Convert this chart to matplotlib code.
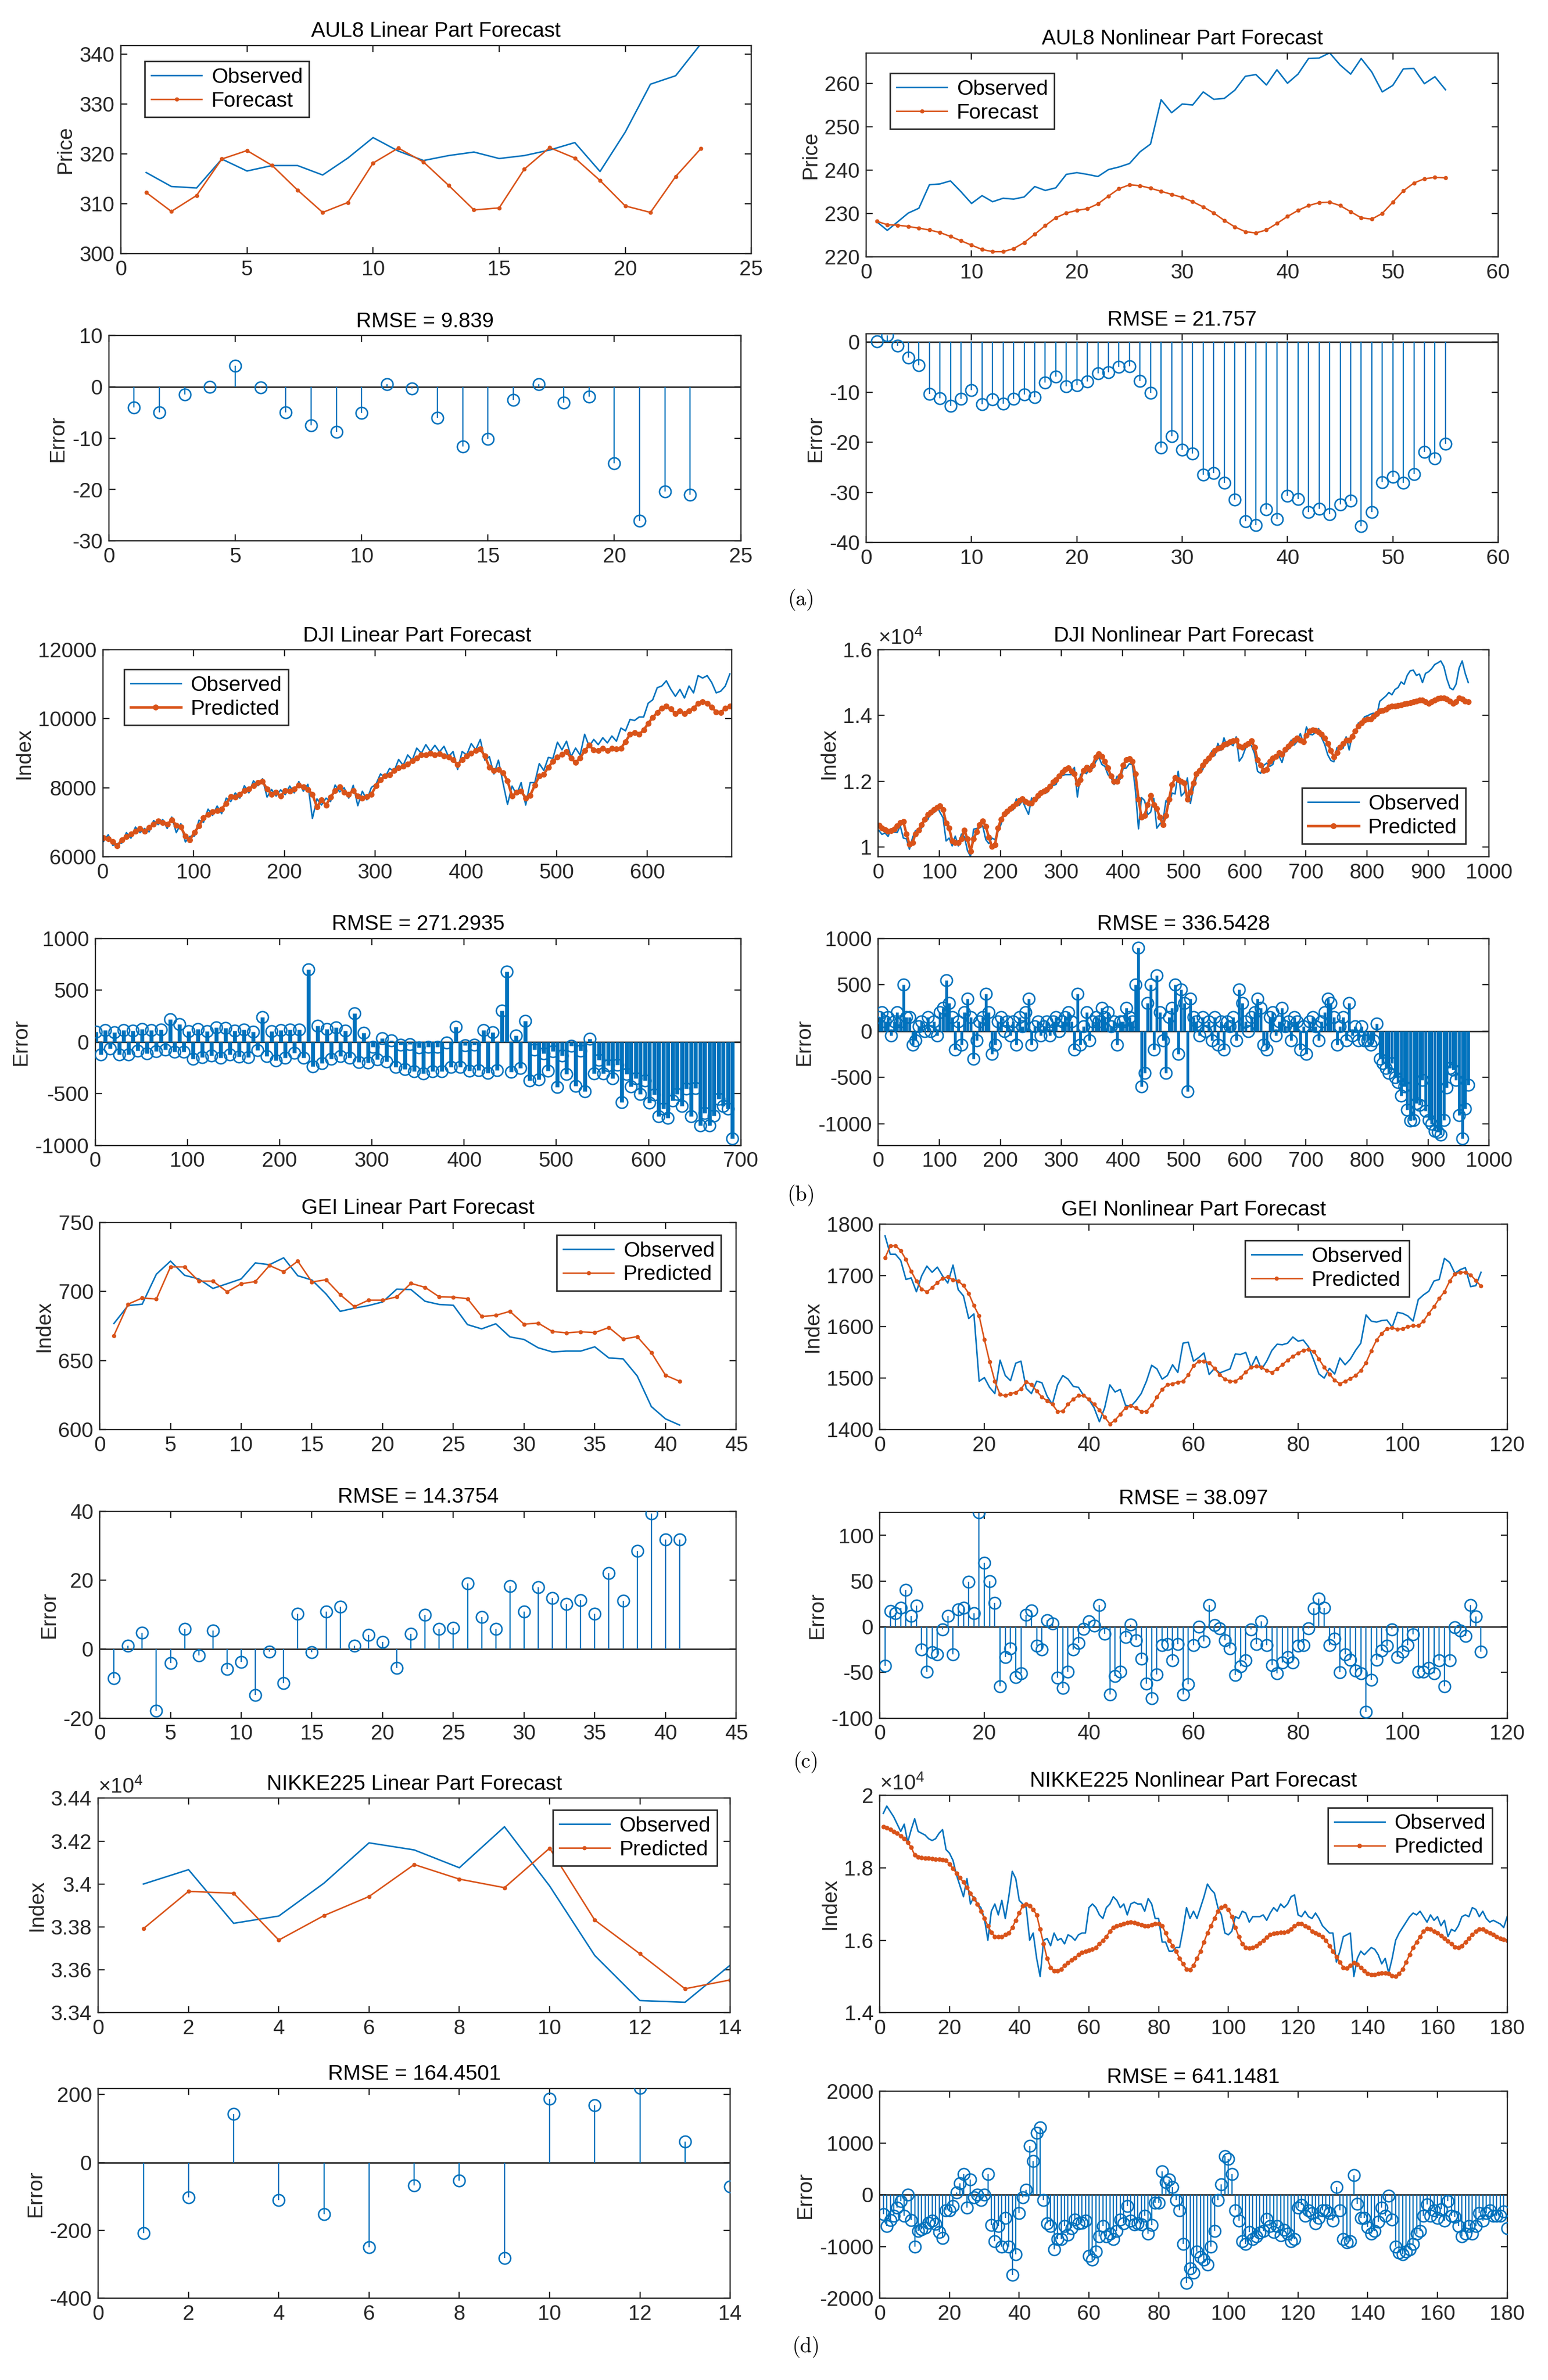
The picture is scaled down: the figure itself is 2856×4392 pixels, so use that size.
import numpy as np
import matplotlib
matplotlib.use("Agg")
import matplotlib.pyplot as plt
from matplotlib.ticker import FuncFormatter

plt.rcParams['font.family'] = ['Liberation Sans Narrow', 'Liberation Sans', 'DejaVu Sans']
plt.rcParams['mathtext.fontset'] = 'custom'
plt.rcParams['mathtext.rm'] = 'Liberation Sans'
plt.rcParams['axes.unicode_minus'] = False

BLUE = '#0072BD'
ORANGE = '#D95319'
DARK = '#262626'

# ---------------- AUL8 ----------------
aul8_lin_obs = [316.3, 313.5, 313.2, 319.0, 316.6, 317.7, 317.7, 315.8, 319.2, 323.3, 320.6, 318.7,
                319.7, 320.4, 319.1, 319.7, 320.8, 322.3, 316.5, 324.4, 334.0, 335.7, 342.1]
aul8_lin_fc = [312.3, 308.5, 311.7, 319.0, 320.7, 317.7, 312.8, 308.3, 310.3, 318.2, 321.2, 318.4,
               313.7, 308.8, 309.2, 317.0, 321.3, 319.2, 314.7, 309.6, 308.3, 315.5, 321.1]
aul8_lin_err = [-4.0, -5.0, -1.5, 0.0, 4.1, -0.1, -5.0, -7.5, -8.8, -5.1, 0.5, -0.3,
                -6.0, -11.6, -10.1, -2.5, 0.5, -3.1, -1.9, -14.9, -26.1, -20.4, -21.0]

aul8_nl_obs = [228.1, 226.1, 228.1, 230.1, 231.2, 236.6, 236.8, 237.5, 235.0, 232.3,
               234.1, 232.7, 233.5, 233.3, 233.8, 236.2, 235.3, 235.9, 239.0, 239.4,
               239.0, 238.5, 240.1, 240.7, 241.5, 244.2, 246.0, 256.2, 253.2, 255.2,
               255.0, 258.0, 256.3, 256.5, 258.4, 261.6, 262.0, 259.6, 263.1, 260.0,
               262.1, 265.7, 265.8, 267.0, 264.2, 262.1, 265.7, 262.6, 258.0, 259.5,
               263.3, 263.4, 259.9, 261.5, 258.5]
aul8_nl_fc = [228.2, 227.4, 227.3, 227.0, 226.6, 226.2, 225.6, 224.7, 223.7, 222.7,
              221.7, 221.2, 221.2, 221.9, 223.3, 225.2, 227.2, 229.0, 230.1, 230.7,
              231.1, 232.2, 234.0, 235.7, 236.6, 236.4, 235.8, 235.1, 234.4, 233.7,
              232.7, 231.5, 230.1, 228.4, 226.9, 225.8, 225.5, 226.2, 227.7, 229.3,
              230.7, 231.8, 232.5, 232.6, 231.8, 230.4, 229.0, 228.7, 230.0, 232.6,
              235.2, 237.0, 238.0, 238.3, 238.2]

# ---------------- DJI (every 5th trading day) ----------------
dji_lin_pred = [6547, 6520, 6442, 6316, 6495, 6579, 6653, 6740, 6810, 6737,
                6842, 6937, 7042, 6989, 6937, 7074, 6916, 6863, 6600, 6495,
                6705, 6895, 7126, 7231, 7305, 7337, 7389, 7547, 7737, 7726,
                7810, 7916, 7968, 8053, 8158, 8179, 7968, 7810, 7863, 7758,
                7916, 7895, 7968, 8074, 8021, 7947, 7810, 7442, 7653, 7495,
                7726, 7916, 8021, 7863, 7810, 7916, 7758, 7705, 7737, 7810,
                8053, 8232, 8337, 8368, 8495, 8579, 8621, 8684, 8779, 8863,
                8947, 8947, 9000, 8947, 8989, 8916, 8895, 8810, 8674, 8810,
                8916, 9000, 9074, 9126, 8916, 8600, 8495, 8526, 8442, 8200,
                7758, 7863, 7895, 7705, 7779, 8074, 8337, 8389, 8600, 8758,
                8884, 8968, 9042, 8863, 8726, 8863, 9074, 9232, 9095, 9074,
                9147, 9074, 9147, 9126, 9147, 9337, 9547, 9600, 9547, 9674,
                9863, 10042, 10179, 10305, 10368, 10284, 10147, 10232, 10147, 10232,
                10305, 10442, 10495, 10442, 10337, 10200, 10179, 10305, 10368]
dji_lin_obs = [6450, 6640, 6330, 6380, 6400, 6700, 6540, 6860, 6700, 6820,
               6720, 7050, 6930, 7080, 6820, 7150, 6700, 6960, 6430, 6590,
               6600, 7060, 7000, 7380, 7200, 7470, 7250, 7700, 7600, 7850,
               7700, 8060, 7850, 8200, 8060, 8260, 7730, 7950, 7760, 7940,
               7800, 8050, 7850, 8180, 7900, 8100, 7110, 7680, 7500, 7700,
               7600, 8080, 7880, 8000, 7700, 8070, 7480, 7900, 7650, 8010,
               8100, 8400, 8300, 8560, 8480, 8820, 8650, 8950, 8800, 9150,
               9000, 9250, 9050, 9230, 9040, 9200, 8900, 9050, 8530, 9050,
               8950, 9280, 9100, 9400, 8800, 8900, 8400, 8800, 8140, 7520,
               8050, 7800, 8150, 7500, 8150, 8150, 8700, 8500, 8880, 8850,
               9320, 9100, 9350, 8900, 9150, 8950, 9550, 9200, 9400, 9250,
               9450, 9300, 9500, 9350, 9730, 9650, 9980, 9950, 10050, 10050,
               10450, 10550, 10900, 10950, 11100, 10850, 10650, 10850, 10600, 10950,
               10750, 11250, 11180, 11250, 11050, 10750, 10800, 10950, 11300]

dji_nl_pred = [10650, 10580, 10525, 10470, 10500, 10550, 10640, 10740, 10770, 10400,
               10080, 10130, 10400, 10510, 10680, 10840, 10980, 11060, 11140, 11200,
               11250, 11140, 10730, 10570, 10180, 10130, 10130, 10240, 10510, 10240,
               9860, 10240, 10460, 10680, 10790, 10620, 10300, 10020, 10070, 10570,
               10840, 11000, 11090, 11170, 11230, 11310, 11420, 11460, 11390, 11340,
               11340, 11450, 11560, 11640, 11700, 11750, 11840, 11970, 12050, 12160,
               12270, 12350, 12400, 12300, 12220, 11920, 12050, 12330, 12430, 12350,
               12490, 12740, 12840, 12760, 12600, 12400, 12160, 12000, 12000, 12160,
               12490, 12650, 12680, 12600, 12220, 11450, 10900, 10960, 11280, 11560,
               11280, 11170, 10900, 10680, 10960, 11450, 11890, 12110, 12050, 12000,
               11950, 11450, 11670, 11950, 12220, 12330, 12490, 12600, 12710, 12820,
               12930, 13000, 13040, 13120, 13150, 13200, 13230, 13250, 13060, 13040,
               13090, 13150, 13230, 13040, 12650, 12490, 12330, 12350, 12600, 12710,
               12760, 12870, 12820, 12960, 13060, 13150, 13250, 13310, 13250, 13200,
               13400, 13530, 13560, 13540, 13500, 13420, 13310, 13150, 12930, 12740,
               12870, 13040, 13150, 13250, 13250, 13370, 13530, 13670, 13780, 13860,
               13890, 13890, 13970, 14050, 14130, 14160, 14190, 14250, 14280, 14290,
               14300, 14320, 14350, 14370, 14390, 14420, 14440, 14460, 14470, 14420,
               14370, 14420, 14470, 14510, 14540, 14530, 14500, 14440, 14360, 14420,
               14530, 14500, 14440, 14420]
dji_nl_obs = [10500, 10380, 10425, 10320, 10550, 10450, 10440, 10640, 10270, 10250,
              9930, 10280, 10500, 10460, 10580, 10840, 10830, 11060, 11040, 11250,
              11050, 10890, 10180, 10270, 10030, 10330, 10030, 10390, 10310, 9890,
              9710, 10540, 10560, 10580, 10640, 10220, 10100, 10270, 10220, 10470,
              10690, 11000, 10990, 11220, 11130, 11460, 11270, 11410, 11190, 10990,
              11490, 11400, 11460, 11690, 11650, 11650, 11890, 11870, 11900, 12160,
              12170, 12200, 12200, 12200, 12420, 11520, 12200, 12280, 12230, 12450,
              12390, 12590, 12740, 12510, 12450, 12200, 12110, 11900, 12150, 12060,
              12390, 12400, 12530, 12500, 11720, 10550, 11500, 11410, 10980, 11060,
              11480, 10570, 10700, 10780, 11410, 11300, 11640, 11610, 12300, 11550,
              11650, 12100, 11320, 11800, 12120, 12380, 12340, 12600, 12610, 12920,
              12780, 13150, 12940, 13320, 13050, 13150, 13080, 13350, 12610, 12740,
              12990, 13150, 13080, 12840, 12300, 12240, 12480, 12550, 12450, 12510,
              12810, 12770, 12570, 12910, 12960, 13250, 13100, 13210, 13450, 13150,
              13650, 13430, 13410, 13490, 13600, 13320, 13110, 12800, 12630, 12590,
              13020, 12990, 13000, 13350, 12950, 13420, 13480, 13770, 13730, 13960,
              13990, 14040, 14070, 13970, 14430, 14510, 14590, 14700, 14630, 14790,
              14850, 15020, 14950, 15220, 15360, 15380, 15220, 15260, 15000, 15280,
              15330, 15420, 15550, 15600, 15660, 15490, 15110, 14840, 14780, 14950,
              15440, 15660, 15280, 15000]

# ---------------- GEI ----------------
gei_lin_obs = [676.8, 689.8, 690.8, 712.5, 722.0, 711.7, 709.1, 702.2, 705.6, 709.1,
               720.7, 719.4, 724.4, 711.4, 708.3, 698.2, 685.6, 687.9, 689.8, 692.4,
               701.7, 701.4, 692.9, 690.6, 690.0, 676.0, 672.9, 676.6, 667.1, 665.2,
               659.2, 656.2, 656.8, 656.8, 659.9, 651.8, 651.2, 638.8, 616.6, 607.7, 603.2]
gei_lin_pred = [668.1, 690.8, 695.3, 694.5, 717.8, 717.8, 707.5, 707.5, 699.8, 705.6,
                707.2, 718.8, 714.3, 722.0, 706.9, 708.5, 697.7, 689.0, 693.7, 693.7,
                696.1, 705.9, 703.0, 696.1, 695.9, 694.8, 681.9, 682.7, 685.6, 676.3,
                677.1, 671.0, 670.0, 670.8, 670.2, 673.9, 665.5, 667.3, 655.7, 639.3, 634.9]
gei_lin_err = [-8.4, 1.0, 4.7, -17.8, -4.0, 5.8, -1.8, 5.3, -5.8, -3.7,
               -13.3, -0.8, -9.8, 10.2, -0.9, 10.9, 12.3, 1.0, 4.1, 2.1,
               -5.4, 4.4, 9.9, 5.8, 6.1, 19.0, 9.3, 5.9, 18.3, 10.9,
               17.9, 14.8, 13.0, 14.1, 10.2, 22.0, 14.0, 28.5, 39.3, 31.7, 31.7]

gei_nl_obs = [1777, 1741, 1741, 1729, 1692, 1695, 1668, 1699, 1718, 1706,
              1716, 1699, 1685, 1720, 1672, 1660, 1616, 1625, 1494, 1501,
              1482, 1470, 1535, 1505, 1495, 1529, 1533, 1480, 1470, 1494,
              1491, 1465, 1449, 1487, 1505, 1498, 1484, 1482, 1466, 1458,
              1442, 1415, 1442, 1487, 1473, 1478, 1447, 1445, 1456, 1470,
              1494, 1525, 1518, 1498, 1505, 1526, 1511, 1568, 1570, 1533,
              1540, 1549, 1507, 1519, 1510, 1514, 1518, 1547, 1546, 1550,
              1521, 1542, 1517, 1533, 1554, 1566, 1565, 1568, 1580, 1572,
              1574, 1561, 1535, 1508, 1500, 1519, 1508, 1539, 1526, 1537,
              1554, 1568, 1623, 1611, 1609, 1612, 1613, 1599, 1628, 1626,
              1621, 1611, 1653, 1662, 1669, 1689, 1692, 1733, 1725, 1704,
              1711, 1715, 1678, 1680, 1706]
gei_nl_pred = [1734, 1757, 1758, 1748, 1731, 1708, 1689, 1673, 1668, 1676,
               1686, 1694, 1697, 1691, 1689, 1680, 1665, 1641, 1621, 1575,
               1532, 1494, 1468, 1466, 1470, 1472, 1479, 1493, 1487, 1475,
               1463, 1456, 1449, 1435, 1436, 1449, 1459, 1466, 1466, 1459,
               1449, 1438, 1424, 1411, 1418, 1430, 1442, 1446, 1442, 1435,
               1435, 1447, 1463, 1478, 1487, 1489, 1492, 1494, 1506, 1524,
               1533, 1533, 1530, 1519, 1507, 1498, 1494, 1494, 1501, 1512,
               1521, 1523, 1521, 1515, 1511, 1518, 1526, 1535, 1542, 1549,
               1554, 1556, 1552, 1537, 1521, 1508, 1496, 1489, 1494, 1499,
               1505, 1515, 1530, 1553, 1574, 1587, 1596, 1598, 1595, 1596,
               1600, 1602, 1602, 1611, 1626, 1639, 1655, 1668, 1689, 1703,
               1706, 1706, 1701, 1690, 1679]
gei_nl_err = [-42.5, 17, 15, 21, 40.5, 12, 23, -25, -49, -28,
              -30, -3, 12, -30, 19, 21, 49, 15, 125, 70,
              50, 26, -65, -33, -24, -55, -51, 13, 18, -21,
              -25, 7, 3.5, -56, -67, -49, -25, -18, -2.4, 6,
              1, 24, -7.5, -74, -54, -49, -11, 2.4, -15, -35,
              -62, -78, -52, -20, -19, -37, -19, -74, -63, -20,
              0, -16, 24, 1.5, -1.5, -15, -24, -53, -43, -37,
              -3, -19, 6, -20, -42, -51, -39, -33, -39, -21,
              -20, -1.5, 20, 31, 21, -20, -13, -50, -30, -36,
              -48, -51, -93, -58, -36, -26, -21, -3, -33, -27,
              -20, -8, -49, -49, -45, -51, -37, -65, -37, -0.4,
              -4, -10, 24, 11, -27]

# ---------------- NIKKEI 225 ----------------
nk_lin_obs = [34000, 34067, 33817, 33851, 34004, 34192, 34159, 34076, 34267, 33991,
              33667, 33457, 33449, 33622]
nk_lin_pred = [33792, 33966, 33957, 33739, 33853, 33942, 34091, 34023, 33983, 34167,
               33832, 33675, 33512, 33553]
nk_lin_err = [-208, -102, 143, -111, -153, -249, -67, -53, -282, 187, 168, 219, 61, -71]

nk_nl_pred = [19130, 19100, 19060, 19000, 18950, 18880, 18800, 18700, 18560, 18350,
              18300, 18280, 18270, 18260, 18250, 18240, 18230, 18220, 18200, 18100,
              17980, 17850, 17720, 17600, 17450, 17300, 17150, 17000, 16800, 16600,
              16400, 16220, 16100, 16100, 16100, 16150, 16200, 16350, 16550, 16750,
              16950, 17000, 16950, 16850, 16700, 16300, 15900, 15500, 15250, 15150,
              15150, 15200, 15300, 15380, 15450, 15520, 15600, 15660, 15700, 15720,
              15750, 15800, 15900, 16000, 16100, 16250, 16350, 16400, 16420, 16450,
              16480, 16500, 16480, 16450, 16430, 16400, 16400, 16420, 16450, 16450,
              16400, 16200, 16000, 15850, 15700, 15500, 15350, 15200, 15180, 15300,
              15500, 15700, 15950, 16200, 16400, 16600, 16800, 16900, 16950, 16850,
              16650, 16350, 16100, 15900, 15800, 15780, 15800, 15850, 15920, 16000,
              16080, 16150, 16180, 16200, 16220, 16220, 16250, 16300, 16400, 16450,
              16450, 16400, 16350, 16250, 16200, 16150, 16100, 16000, 15850, 15700,
              15550, 15400, 15250, 15230, 15300, 15380, 15330, 15250, 15150, 15080,
              15050, 15050, 15080, 15100, 15100, 15080, 15020, 15000, 15080, 15200,
              15400, 15600, 15800, 15950, 16100, 16250, 16320, 16300, 16250, 16200,
              16120, 16050, 15980, 15900, 15820, 15800, 15850, 15950, 16050, 16150,
              16250, 16300, 16300, 16250, 16200, 16150, 16100, 16050, 16030, 16000]
nk_nl_obs = [19500, 19700, 19550, 19400, 19200, 19000, 19200, 18700, 19050, 19350,
             19000, 18950, 18900, 18800, 18750, 18800, 18950, 19050, 18500, 18400,
             18200, 17800, 17500, 17200, 17700, 17000, 17200, 17000, 16900, 16600,
             16000, 16800, 17000, 16700, 17100, 16600, 17200, 17900, 17700, 17100,
             17000, 16900, 16000, 16200, 15500, 15000, 16000, 16050, 15850, 16200,
             16000, 16050, 15900, 16150, 16100, 16000, 16150, 16200, 16200, 16900,
             17000, 16900, 16700, 16600, 16900, 17000, 17200, 17100, 16900, 17000,
             16700, 17000, 17050, 17000, 17000, 16800, 17150, 17000, 16600, 16600,
             15950, 15950, 15700, 15700, 15800, 15800, 16300, 16900, 16600, 16800,
             16600, 16900, 17200, 17550, 17400, 17300, 16900, 16700, 16200, 16150,
             16250, 16650, 16600, 16800, 16750, 16500, 16650, 16650, 16650, 16700,
             16550, 16750, 16900, 16800, 17000, 16900, 17000, 17200, 17250, 16700,
             16650, 16800, 16650, 16600, 16750, 16600, 16400, 16300, 16200, 16200,
             15400, 15700, 16100, 16150, 16200, 15000, 15500, 15700, 15600, 15700,
             15800, 15750, 15600, 15350, 15500, 15100, 15500, 16000, 16200, 16350,
             16500, 16650, 16750, 16700, 16800, 16650, 16500, 16700, 16550, 16650,
             16400, 16550, 16100, 16300, 16250, 16400, 16650, 16700, 16650, 16900,
             16850, 16650, 16800, 16600, 16500, 16550, 16500, 16450, 16350, 16650]

# ---------------- layout (reference pixel boxes, 1024 x 1575 grid) ----------------
W, H = 1024.0, 1575.0


def box(x0, y0, x1, y1):
    return [x0 / W, 1 - y1 / H, (x1 - x0) / W, (y1 - y0) / H]


FS = 10

fig = plt.figure(figsize=(10.2, 15.686), dpi=280)


def style(ax, xlim, ylim, xticks, yticks, ylabel, title):
    ax.set_xlim(*xlim)
    ax.set_ylim(*ylim)
    ax.set_xticks(xticks)
    ax.set_yticks(yticks)
    for s in ax.spines.values():
        s.set_color(DARK)
        s.set_linewidth(0.6)
    ax.tick_params(direction='in', top=True, right=True, length=3, width=0.6,
                   colors=DARK, labelsize=FS, pad=3)
    ax.set_ylabel(ylabel, fontsize=FS, color=DARK, labelpad=2)
    ax.set_title(title, fontsize=FS, color='black', pad=4)


def sci(ax):
    ax.yaxis.set_major_formatter(FuncFormatter(lambda v, p: f'{v / 1e4:g}'))
    ax.text(0.0, 1.005, r'$\times10^{4}$', transform=ax.transAxes, ha='left',
            va='bottom', fontsize=FS, color=DARK)


def lines(ax, t, obs, pred, pred_label, ms=2.0, plw=0.7):
    ax.plot(t, obs, '-', color=BLUE, lw=0.7, label='Observed')
    ax.plot(t, pred, '-', color=ORANGE, lw=plw, marker='o', ms=ms, mew=0,
            label=pred_label)


def legend(ax, loc, anchor):
    lg = ax.legend(loc=loc, bbox_to_anchor=anchor, fontsize=FS, frameon=True,
                   fancybox=False, edgecolor=DARK, framealpha=1, borderaxespad=0,
                   handlelength=2.4, handletextpad=0.45, labelspacing=0.2,
                   borderpad=0.3, numpoints=1)
    lg.get_frame().set_linewidth(0.7)


def stems(ax, t, e, lw=0.6, ms=5.5):
    ax.axhline(0, color=DARK, lw=0.7, zorder=1)
    ml, sl, bl = ax.stem(t, e, linefmt='-', markerfmt='o', basefmt=' ')
    plt.setp(sl, color=BLUE, linewidth=lw, zorder=2)
    plt.setp(ml, color=BLUE, markerfacecolor='none', markersize=ms,
             markeredgewidth=0.7, zorder=3)


# ---- (a) AUL8 ----
t = np.arange(1, len(aul8_lin_obs) + 1)
ax = fig.add_axes(box(80, 30, 497, 168))
lines(ax, t, aul8_lin_obs, aul8_lin_fc, 'Forecast')
style(ax, (0, 25), (300, 341.8), range(0, 26, 5), range(300, 341, 10), 'Price',
      'AUL8 Linear Part Forecast')
legend(ax, 'upper left', (0.038, 0.923))

ax = fig.add_axes(box(72, 222, 490, 358))
stems(ax, t, aul8_lin_err)
style(ax, (0, 25), (-30, 10), range(0, 26, 5), range(-30, 11, 10), 'Error',
      'RMSE = 9.839')

t = np.arange(1, len(aul8_nl_obs) + 1)
ax = fig.add_axes(box(573, 35, 991, 170))
lines(ax, t, aul8_nl_obs, aul8_nl_fc, 'Forecast')
style(ax, (0, 60), (220, 267), range(0, 61, 10), range(220, 261, 10), 'Price',
      'AUL8 Nonlinear Part Forecast')
legend(ax, 'upper left', (0.038, 0.90))

ax = fig.add_axes(box(573, 221, 991, 359))
stems(ax, t, np.array(aul8_nl_fc) - np.array(aul8_nl_obs))
style(ax, (0, 60), (-40, 1.6), range(0, 61, 10), range(-40, 1, 10), 'Error',
      'RMSE = 21.757')

# ---- (b) DJI ----
t = np.arange(1, 5 * len(dji_lin_obs), 5)
ax = fig.add_axes(box(68, 430, 484, 567))
lines(ax, t, dji_lin_obs, dji_lin_pred, 'Predicted', ms=2.8, plw=1.2)
style(ax, (0, 693), (6000, 12000), range(0, 601, 100), range(6000, 12001, 2000), 'Index',
      'DJI Linear Part Forecast')
legend(ax, 'upper left', (0.034, 0.905))

ax = fig.add_axes(box(63, 621, 490, 758))
stems(ax, t, np.array(dji_lin_pred) - np.array(dji_lin_obs), lw=1.9)
style(ax, (0, 700), (-1000, 1000), range(0, 701, 100), range(-1000, 1001, 500), 'Error',
      'RMSE = 271.2935')

t = np.arange(1, 5 * len(dji_nl_obs), 5)
ax = fig.add_axes(box(581, 430, 985, 567))
lines(ax, t, dji_nl_obs, dji_nl_pred, 'Predicted', ms=2.8, plw=1.2)
style(ax, (0, 1000), (9700, 16000), range(0, 1001, 100), range(10000, 16001, 2000), 'Index',
      'DJI Nonlinear Part Forecast')
sci(ax)
legend(ax, 'lower right', (0.962, 0.062))

ax = fig.add_axes(box(581, 621, 985, 758))
stems(ax, t, np.array(dji_nl_pred) - np.array(dji_nl_obs), lw=1.35)
style(ax, (0, 1000), (-1235, 1000), range(0, 1001, 100), range(-1000, 1001, 500), 'Error',
      'RMSE = 336.5428')

# ---- (c) GEI ----
t = np.arange(1, len(gei_lin_obs) + 1)
ax = fig.add_axes(box(66, 809, 487, 946))
lines(ax, t, gei_lin_obs, gei_lin_pred, 'Predicted')
style(ax, (0, 45), (600, 750), range(0, 46, 5), range(600, 751, 50), 'Index',
      'GEI Linear Part Forecast')
legend(ax, 'upper right', (0.976, 0.94))

ax = fig.add_axes(box(66, 1000, 487, 1137))
stems(ax, t, gei_lin_err)
style(ax, (0, 45), (-20, 40), range(0, 46, 5), range(-20, 41, 20), 'Error',
      'RMSE = 14.3754')

t = np.arange(1, len(gei_nl_obs) + 1)
ax = fig.add_axes(box(582, 810, 997, 946))
lines(ax, t, gei_nl_obs, gei_nl_pred, 'Predicted')
style(ax, (0, 120), (1400, 1800), range(0, 121, 20), range(1400, 1801, 100), 'Index',
      'GEI Nonlinear Part Forecast')
legend(ax, 'upper left', (0.582, 0.919))

ax = fig.add_axes(box(582, 1001, 997, 1137))
stems(ax, t, gei_nl_err)
style(ax, (0, 120), (-100, 125), range(0, 121, 20), range(-100, 101, 50), 'Error',
      'RMSE = 38.097')

# ---- (d) NIKKEI 225 ----
t = np.arange(1, len(nk_lin_obs) + 1)
ax = fig.add_axes(box(65, 1190, 483, 1332))
lines(ax, t, nk_lin_obs, nk_lin_pred, 'Predicted')
style(ax, (0, 14), (33400, 34400), range(0, 15, 2), range(33400, 34401, 200), 'Index',
      'NIKKE225 Linear Part Forecast')
sci(ax)
legend(ax, 'upper right', (0.979, 0.945))

ax = fig.add_axes(box(65, 1382, 483, 1521))
stems(ax, t, nk_lin_err)
style(ax, (0, 14), (-400, 218), range(0, 15, 2), range(-400, 201, 200), 'Error',
      'RMSE = 164.4501')

t = np.arange(1, len(nk_nl_obs) + 1)
ax = fig.add_axes(box(582, 1188, 997, 1332))
lines(ax, t, nk_nl_obs, nk_nl_pred, 'Predicted', ms=2.2)
style(ax, (0, 180), (14000, 20000), range(0, 181, 20), range(14000, 20001, 2000), 'Index',
      'NIKKE225 Nonlinear Part Forecast')
sci(ax)
legend(ax, 'upper right', (0.976, 0.943))

ax = fig.add_axes(box(582, 1384, 997, 1521))
stems(ax, t, np.array(nk_nl_pred) - np.array(nk_nl_obs))
style(ax, (0, 180), (-2000, 2000), range(0, 181, 20), range(-2000, 2001, 1000), 'Error',
      'RMSE = 641.1481')

# panel letters
for lab, (x, y) in zip(['(a)', '(b)', '(c)', '(d)'],
                       [(530, 397), (530, 791), (533, 1166), (533, 1553)]):
    fig.text(x / W, 1 - y / H, lab, fontfamily='cmr10', fontsize=10,
             ha='center', va='center')

fig.savefig('out.png', dpi=280)
